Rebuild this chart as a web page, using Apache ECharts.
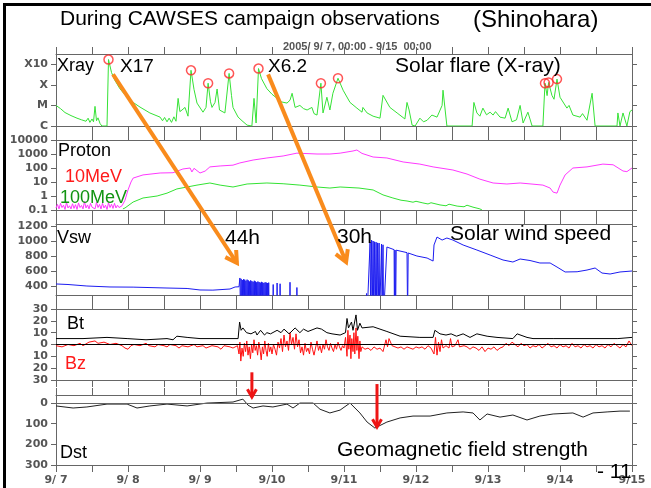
<!DOCTYPE html>
<html><head><meta charset="utf-8">
<script src="https://cdn.jsdelivr.net/npm/echarts@6/dist/echarts.min.js"></script>
<style>html,body{margin:0;padding:0;background:#fff}#c{width:651px;height:488px}</style>
</head><body><div id="c"></div>
<script>
// ---------- tick labels ----------
const dayLabels = ['9/ 7','9/ 8','9/ 9','9/10','9/11','9/12','9/13','9/14','9/15'];
const xrayTickFlux = [1e-6, 1e-5, 1e-4, 1e-3];
const xrayTickNames = ['C', 'M', 'X', 'X10'];
const protonTicks = [0.1, 1, 10, 100, 1000, 10000];
const vswTicks = [400, 600, 800, 1000, 1200];
const bTicks = [-30, -20, -10, 0, 10, 20, 30];
const dstTicks = [0, -100, -200, -300];

// ---------- data: [hours since 2005-09-07 00:00 UT, value] ----------
const xray = [[0,1.0e-5],[1.5,7e-6],[3,4.5e-6],[5,3.2e-6],[7,2.4e-6],[8.5,2.0e-6],[10,1.7e-6],[10.7,2.4e-6],[11.3,1.5e-6],[12,2.2e-6],[12.5,1.6e-6],[13,9e-6],[13.5,1.8e-6],[14,2.5e-6],[14.7,1.3e-6],[15.3,1e-6],[17,1e-6],[17.5,1.7e-3],[18.5,4e-4],[19.5,1.8e-4],[21.3,6.5e-5],[23.7,2.5e-5],[25.7,1.4e-5],[28,8.3e-6],[31.3,4.3e-6],[34.7,2.7e-6],[35.5,1.8e-6],[36.2,2.6e-6],[37,1.6e-6],[37.7,2.4e-6],[38.5,1.5e-6],[39.3,2.8e-6],[40,1.7e-6],[40.7,2.2e-5],[41.3,5e-6],[42,6e-6],[43,8e-6],[44,3e-6],[45,5.1e-4],[46,6e-5],[47,1.3e-5],[49,4.7e-6],[50,8e-6],[50.7,1.2e-4],[51.5,1.5e-5],[52,8e-6],[53,1.4e-5],[53.7,6.3e-5],[54.5,6e-6],[56.3,4.3e-6],[57.7,3.6e-4],[58.5,3e-5],[59,8e-6],[60.7,2.7e-6],[62,1.8e-6],[63.7,1.1e-6],[65.3,1e-6],[66,2.2e-5],[66.7,1.4e-6],[67.5,6.2e-4],[68.5,2e-4],[70.3,6.5e-5],[72,3.5e-5],[73.7,2.2e-5],[75,1.5e-5],[77,1.3e-5],[78,1.8e-5],[78.7,3.9e-5],[79.7,8e-6],[81.3,1e-5],[82.5,7e-6],[83.7,6e-6],[85.3,8e-6],[86,4e-6],[87,3.4e-6],[88.3,1.2e-4],[89,4.3e-6],[90.3,2.5e-5],[91.3,6e-6],[92.3,3.9e-5],[94,2.1e-4],[95.7,5.5e-5],[98,1.4e-5],[100.3,7.4e-6],[102,4.7e-6],[102.3,8e-6],[103.7,4.3e-6],[105.7,3e-6],[108,2.4e-6],[109,3.1e-5],[111.3,8e-6],[113.7,4.3e-6],[116.3,2.2e-6],[117,1.4e-5],[117.7,6e-6],[118.7,1.1e-6],[119.7,1e-6],[121.3,2.4e-6],[122.5,1.6e-6],[123.7,1.9e-6],[125.3,3.4e-6],[127,2.7e-6],[128.7,1e-5],[129,5.5e-5],[130.3,1e-6],[138.7,1e-6],[139.3,1.4e-5],[140.3,4.3e-6],[141.3,3e-6],[142.3,7.4e-6],[143.5,3.5e-6],[144.7,4.7e-6],[145.7,3.4e-6],[146.5,5e-6],[148,2.7e-6],[149.7,2.4e-6],[150.7,7.4e-6],[152,1.6e-6],[153.5,2e-6],[154.7,1e-5],[155.7,1.4e-6],[157.3,4.7e-6],[158.7,1e-6],[162.3,1e-6],[163,1.2e-4],[163.7,3e-5],[164.2,1.3e-4],[165.3,3.1e-5],[166,2e-5],[167,1.9e-4],[168,2.5e-5],[170.3,7.4e-6],[171,1e-5],[172.3,3.4e-6],[174.7,2.7e-6],[175.5,4e-6],[177,1.9e-6],[178.7,3.9e-5],[179.7,1e-6],[187,1e-6],[187.3,4.3e-6],[188,1e-6],[189,4.3e-6],[190.3,1e-6],[191.3,5e-6],[192,6e-6]];

const flares = [[17.5,1.7e-3],[45,5.1e-4],[50.7,1.2e-4],[57.7,3.6e-4],[67.5,6.2e-4],[88.3,1.2e-4],[94,2.1e-4],[163,1.2e-4],[164.2,1.3e-4],[167,1.9e-4]];

const proton10 = [[0,0.14],[0.5,0.25],[1,0.12],[1.5,0.3],[2,0.15],[2.5,0.22],[3,0.11],[3.5,0.35],[4,0.14],[4.5,0.2],[5,0.12],[5.5,0.28],[6,0.13],[6.5,0.24],[7,0.11],[7.5,0.32],[8,0.15],[8.5,0.21],[9,0.12],[9.5,0.4],[10,0.14],[10.5,0.23],[11,0.12],[11.5,0.3],[12,0.16],[12.5,0.22],[13,0.12],[13.5,0.35],[14,0.15],[14.5,0.25],[15,0.12],[15.5,0.3],[16,0.14],[16.5,0.22],[17,0.11],[17.5,0.33],[18,0.15],[18.5,0.26],[19,0.13],[19.5,0.3],[20,0.14],[20.5,0.22],[21,0.15],[22,0.2],[23,0.5],[24,2.7],[25,10],[25.7,19],[29,32],[34.7,44],[39,46],[42.3,85],[44.7,100],[45.3,52],[46,95],[48,44],[49.7,60],[51.3,120],[54.7,140],[59,160],[61.3,230],[65.7,370],[70.3,520],[75.7,720],[80.3,1150],[87,1000],[91.3,1000],[94.7,1150],[99,1640],[100.3,1930],[102,1100],[105.7,610],[110.3,520],[115.7,270],[121.3,190],[125.7,120],[132.3,72],[137,37],[141.3,16],[145.7,8.5],[150.3,7.2],[154.7,8.5],[159,7],[162.3,6],[164.7,3.7],[165.7,1.9],[167,1.6],[168,6],[169.7,32],[172.3,100],[177,120],[182.3,190],[185.7,170],[189,61],[190.3,55],[192,100]];

const proton100 = [[22.3,0.12],[23,0.14],[25.7,0.37],[29,0.72],[33.7,1],[37,1.6],[40.3,3.2],[43.7,4.4],[47,6],[51.3,8.5],[54.7,6],[59,4.4],[63.7,7.2],[70.3,8.5],[75.7,7.5],[81.3,6],[87,4.4],[91.3,3.7],[94.7,4.4],[101,3.7],[105.7,2.7],[109,1.2],[112.3,0.72],[115,0.5],[117,0.44],[119,0.36],[120,0.42],[122.3,0.32],[124,0.27],[125,0.33],[128,0.23],[130,0.2],[131,0.26],[133.7,0.19],[136,0.17],[137,0.22],[139,0.16],[141.3,0.12],[142,0.1]];

const vsw = [[0,427],[4,420],[10.3,400],[18,387],[25.7,385],[37,373],[43.7,367],[48,347],[52.3,345],[58,360],[59.7,387],[61,390],[61.3,507],[61.5,0],[61.7,495],[61.9,0],[62.1,480],[62.3,0],[62.5,490],[62.7,0],[62.9,485],[63.1,0],[63.3,470],[63.5,0],[63.7,485],[63.9,0],[64.1,475],[64.3,0],[64.5,460],[64.7,0],[64.9,475],[65.1,0],[65.3,465],[65.5,0],[65.7,455],[65.9,0],[66.1,470],[66.3,0],[66.5,460],[66.7,0],[66.9,450],[67.1,0],[67.3,460],[67.5,0],[67.7,452],[67.9,0],[68.1,445],[68.3,0],[68.5,455],[68.7,0],[68.9,448],[69.1,0],[69.3,440],[69.5,0],[69.7,450],[69.9,0],[70.1,445],[70.3,0],[70.5,440],[70.7,0],[70.9,445],[71.1,0],[72.3,0],[72.4,420],[72.5,0],[73.6,0],[73.7,440],[73.8,0],[74.6,0],[74.7,430],[74.8,0],[77.9,0],[78,450],[78.1,0],[80.2,0],[80.3,380],[80.4,0],[103.3,0],[103.5,300],[103.7,0],[104.3,0],[104.7,987],[104.9,0],[105.2,1013],[105.4,0],[105.7,1000],[105.9,0],[106.2,990],[106.4,0],[106.7,985],[106.9,0],[107.2,975],[107.4,0],[107.7,973],[107.9,0],[108.5,960],[108.7,0],[109.0,950],[109.2,0],[110.3,920],[112.7,885],[112.8,0],[113.0,880],[113.2,0],[113.4,878],[117,845],[117.2,0],[117.4,840],[120.3,800],[123.7,773],[125.7,733],[126,947],[127,1053],[128.7,1013],[130.3,1040],[132.3,1013],[135.7,947],[140.3,880],[144.7,813],[149,747],[152.3,720],[154.7,760],[158,740],[161.3,707],[164.7,707],[167,653],[169.7,587],[173.7,590],[177,613],[179.7,640],[182,573],[184.7,560],[188,587],[192,600]];

const bt = [[0,5],[9,5],[17,6],[23.7,5],[30,4],[37,5],[39,4],[40.3,7],[43.7,6],[48,5],[55,5],[59,5],[60.7,5],[61.2,19],[61.7,12],[62.3,14],[63.5,10],[65,9],[66.5,11],[67,8],[68.2,12],[69.5,8],[70.3,10],[71.5,9],[73.7,12],[75,10],[76,13],[77.7,9],[79.7,14],[81.3,10],[82.5,13],[84,11],[87,14],[88.5,13],[90.3,10],[92,9],[94.7,8],[96.5,10],[97,22],[97.5,14],[98.5,19],[99,12],[100,25],[100.5,12],[101.3,18],[102,14],[105.7,15],[110.3,11],[114.7,7],[121.3,6],[125.7,6],[126.3,12],[128,9],[130,8],[131.7,9],[133.5,7],[135.7,9],[138,6],[140.3,9],[143.7,7],[147,6],[152.3,5],[153.7,9],[157,6],[159,5],[165.7,5],[177,5],[187.3,5],[192,6]];

const bz = [[0,-1],[2,-2],[4,0],[6,-1],[8,1],[9,-1],[11,2],[13,3],[14,1],[16,2],[18,0],[20,1],[22,-1],[23,-3],[24,-4],[25,-1],[26,0],[28,-1],[30,1],[31,-1],[33,-2],[34,0],[36,-1],[37,-2],[38,0],[40,-1],[41,-3],[42,-1],[44,-2],[46,0],[47,-2],[49,-1],[50,-3],[52,-1],[54,-2],[55,-4],[56,-1],[58,-2],[59,-3],[60.5,-1],[61,-8],[61.3,2],[61.6,-14],[62,-3],[62.4,-10],[62.8,1],[63.2,-6],[63.6,3],[64,-9],[64.4,-2],[64.8,-12],[65.2,0],[65.6,-7],[66,4],[66.4,-5],[66.8,-1],[67.2,-9],[67.6,2],[68,-4],[68.4,-13],[68.8,-2],[69.2,-8],[69.6,3],[70,-5],[70.4,-10],[70.8,1],[71.2,-6],[71.6,-2],[72,-8],[72.5,0],[73,-4],[73.5,-9],[74,2],[74.5,-3],[75,5],[75.5,-6],[76,8],[76.5,-2],[77,3],[77.5,-5],[78,10],[78.5,0],[79,6],[79.5,-4],[80,9],[80.5,-2],[81,4],[81.5,-7],[82,-2],[82.5,-9],[83,1],[83.5,-6],[84,-3],[84.5,-8],[85,2],[85.5,-4],[86,-9],[86.5,-3],[87,3],[87.5,-5],[88,-1],[88.5,-7],[89,0],[89.5,-4],[90,4],[90.5,-2],[91,-5],[91.5,1],[92,-3],[92.5,-6],[93,0],[93.5,-4],[94,2],[94.5,-2],[95,-5],[95.5,-1],[96,-3],[96.5,6],[97,-10],[97.3,12],[97.6,-4],[98,8],[98.3,-12],[98.6,5],[99,-6],[99.3,10],[99.6,-8],[100,14],[100.3,-5],[100.6,7],[101,-12],[101.3,3],[101.6,-6],[102,-2],[103,-4],[104,-3],[105,-5],[106,-2],[107,-4],[108,-3],[109,-6],[110,4],[110.5,-2],[111,5],[112,-1],[113,-2],[114,-3],[115,-2],[116,-4],[117,-2],[118,-3],[119,-4],[120,-2],[121,-3],[122,-2],[123,-4],[124,-1],[125,-3],[126,-8],[126.5,6],[127,-9],[127.5,2],[128,-6],[128.5,4],[129,-3],[130,-1],[131,-3],[131.5,5],[132,-2],[133,-1],[134,4],[134.5,-2],[135,-3],[136,-1],[137,-2],[138,-4],[139,-2],[140,-3],[141,-5],[142,-2],[143,-6],[144,-3],[145,-4],[146,-2],[147,-5],[148,-3],[149,-2],[150,1],[151,-1],[152,2],[153,0],[154,-2],[155,1],[156,-1],[157,0],[158,-3],[159,-1],[160,-2],[161,0],[162,-3],[163,-1],[164,1],[165,-2],[166,-1],[167,-3],[168,0],[169,-2],[170,-1],[171,-3],[172,1],[173,-2],[174,-1],[175,-3],[176,0],[177,-2],[178,-1],[179,-3],[180,0],[181,-2],[182,-1],[183,-3],[184,0],[185,-2],[186,1],[187,-1],[188,-3],[189,0],[190,-2],[191,3],[192,-1]];

const dst = [[0,-14],[5.7,-24],[10.3,-19],[17,-5],[23.7,-5],[27,-24],[31.3,-14],[37,-5],[43.7,-14],[50.3,0],[59,5],[62.3,19],[64,-10],[65.7,-24],[69,-14],[72.3,-19],[77,-5],[79,-24],[81.3,0],[85.7,0],[88,-30],[91.3,-48],[94.7,-34],[98,0],[101.3,-48],[103.7,-92],[106.3,-121],[110.3,-92],[114.7,-72],[119,-63],[124.7,-63],[130.3,-48],[135.7,-43],[139,-48],[141.3,-82],[143.7,-53],[148,-68],[152.3,-58],[157,-82],[161.3,-63],[165.7,-53],[172.3,-48],[175.7,-68],[179,-48],[183.7,-43],[188,-39],[191.3,-39]];

// ---------- chart ----------
const log10 = v => Math.log10(v);
const lg = arr => arr.map(p => [p[0], log10(p[1])]);
const AX = '#666';
const LBL = {fontFamily:'DejaVu Sans', fontWeight:'bold', fontSize:11, color:'#555'};
const grids = [
  {top:54, height:72},
  {top:140, height:70},
  {top:224, height:71},
  {top:309, height:71},
  {top:395, height:70}
].map(g => Object.assign({left:56, width:576, containLabel:false, outerBoundsMode:'none'}, g));

const xAxes = [], yAxes = [];
grids.forEach((g, i) => {
  ['bottom','top'].forEach(pos => {
    const showLbl = (i === 4 && pos === 'bottom');
    xAxes.push({
      type:'value', gridIndex:i, position:pos, min:0, max:192, interval:12,
      axisLine:{show:true, onZero:false, lineStyle:{color:AX, width:1}},
      axisTick:{show:true, inside:false, length:7, lineStyle:{color:AX}},
      splitLine:{show:false},
      axisLabel: showLbl ? Object.assign({show:true, margin:10,
        formatter: v => (v % 24 === 0 ? dayLabels[v/24] : '')}, LBL) : {show:false}
    });
  });
});
const yDefs = [
  {min:-6, max:-2.5, vals:xrayTickFlux.map(log10), fmt: v => xrayTickNames[Math.round(v)+6]},
  {min:-1, max:4, vals:protonTicks.map(log10), fmt: v => { const r = Math.pow(10, Math.round(v)); return r < 1 ? r.toFixed(1) : String(Math.round(r)); }},
  {min:280, max:1227, vals:vswTicks, fmt: v => String(v)},
  {min:-30, max:30, vals:bTicks, fmt: v => String(Math.abs(v))},
  {min:-300, max:39, vals:dstTicks, fmt: v => String(Math.abs(v))}
];
yDefs.forEach((d, i) => {
  ['left','right'].forEach(pos => {
    yAxes.push({
      type:'value', gridIndex:i, position:pos, min:d.min, max:d.max,
      axisLine:{show:true, onZero:false, lineStyle:{color:AX, width:1}},
      axisTick:{show:true, inside:false, length:5, customValues:d.vals, lineStyle:{color:AX}},
      splitLine:{show:false},
      axisLabel: pos === 'left' ? Object.assign({show:true, margin:8, customValues:d.vals, formatter:d.fmt}, LBL) : {show:false}
    });
  });
});

const line = (name, xi, yi, data, color, extra) => Object.assign({
  name, type:'line', xAxisIndex:xi, yAxisIndex:yi, data, showSymbol:false, symbol:'none',
  lineStyle:{color, width:1}, itemStyle:{color}, clip:true, animation:false, silent:true
}, extra || {});

const series = [
  line('xray', 0, 0, lg(xray), '#36e236'),
  {name:'flares', type:'scatter', xAxisIndex:0, yAxisIndex:0, data:lg(flares), symbol:'circle', symbolSize:9,
   itemStyle:{color:'rgba(255,255,255,0)', borderColor:'#ff2a2a', borderWidth:1.5}, animation:false, silent:true, z:5},
  line('p10', 2, 2, lg(proton10), '#ff38ff'),
  line('p100', 2, 2, lg(proton100), '#33e233'),
  line('vsw', 4, 4, vsw, '#1c1cf0'),
  line('bz', 6, 6, bz, '#ff1010', {markLine:{silent:true, symbol:'none', label:{show:false}, lineStyle:{color:'#000', width:1, type:'solid'}, data:[{yAxis:0}]}}),
  line('bt', 6, 6, bt, '#000000'),
  line('dst', 8, 8, dst, '#222222', {markLine:{silent:true, symbol:'none', label:{show:false}, lineStyle:{color:'#666', width:1, type:'solid'}, data:[{yAxis:0}]}})
];

const T = (text, x, y, size, color, extra) => Object.assign({
  type:'text', x, y, silent:true, z:100,
  style:{text, fill:color || '#000', font: (size||18) + 'px "Liberation Sans", Arial, sans-serif', textVerticalAlign:'middle', textAlign:'left'}
}, extra || {});

const texts = [
  T('During CAWSES campaign observations', 60, 19, 21),
  T('(Shinohara)', 473, 20, 24),
  {type:'text', x:283, y:47, silent:true, z:100, style:{text:'2005/ 9/ 7, 00:00 - 9/15  00:00', fill:'#555', font:'bold 11px "Liberation Sans", Arial', textVerticalAlign:'middle'}},
  T('Xray', 57, 66, 18),
  T('X17', 120, 67, 19),
  T('X6.2', 268, 67, 19),
  T('Solar flare (X-ray)', 395, 66, 21),
  T('Proton', 58, 151, 18),
  T('10MeV', 65, 177, 18, '#ff1a1a'),
  T('100MeV', 60, 198, 18, '#129412'),
  T('Vsw', 57, 238, 18),
  T('44h', 225, 238, 21),
  T('30h', 337, 237, 21),
  T('Solar wind speed', 450, 234, 21),
  T('Bt', 67, 324, 18),
  T('Bz', 65, 364, 18, '#ff1a1a'),
  T('Dst', 60, 453, 18),
  T('Geomagnetic field strength', 337, 450, 21),
  T('- 11', 597, 472, 21),
  {type:'line', shape:{x1:3, y1:4.5, x2:651, y2:4.5}, style:{stroke:'#000', lineWidth:3}, z:100, silent:true},
  {type:'line', shape:{x1:4.5, y1:3, x2:4.5, y2:488}, style:{stroke:'#000', lineWidth:3}, z:100, silent:true}
];

const chart = echarts.init(document.getElementById('c'), null, {renderer:'canvas'});
chart.setOption({
  animation:false, backgroundColor:'#fff',
  grid:grids, xAxis:xAxes, yAxis:yAxes, series, graphic:texts
});

// arrows anchored in data coordinates (flare time -> arrival time)
const arrowDefs = [
  {from:[0, 19, -3.49], to:[2, 60.3, 707], color:'#f98b1c', w:4, head:13},
  {from:[0, 70.7, -3.49], to:[2, 96.7, 720], color:'#f98b1c', w:4, head:13},
  {from:[3, 65.3, -23.5], to:[4, 65.3, 29], color:'#ee1515', w:3, head:9},
  {from:[4, 107, 92], to:[4, 107, -116], color:'#ee1515', w:3, head:9}
];
const arrowEls = [];
arrowDefs.forEach(a => {
  const p1 = chart.convertToPixel({gridIndex:a.from[0]}, [a.from[1], a.from[2]]);
  const p2 = chart.convertToPixel({gridIndex:a.to[0]}, [a.to[1], a.to[2]]);
  const ang = Math.atan2(p2[1]-p1[1], p2[0]-p1[0]);
  const s = Math.PI/6;
  const h1 = [p2[0] - a.head*Math.cos(ang - s), p2[1] - a.head*Math.sin(ang - s)];
  const h2 = [p2[0] - a.head*Math.cos(ang + s), p2[1] - a.head*Math.sin(ang + s)];
  arrowEls.push({type:'line', shape:{x1:p1[0], y1:p1[1], x2:p2[0], y2:p2[1]}, style:{stroke:a.color, lineWidth:a.w, lineCap:'butt'}, z:90, silent:true});
  arrowEls.push({type:'polyline', shape:{points:[h1, p2, h2]}, style:{stroke:a.color, lineWidth:a.w, fill:null, lineJoin:'miter'}, z:90, silent:true});
});
chart.setOption({graphic: texts.concat(arrowEls)});
</script></body></html>
